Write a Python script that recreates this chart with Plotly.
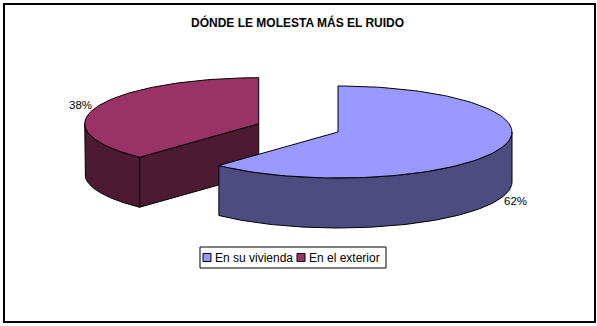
import math
import plotly.graph_objects as go

# ---- data ----
categories = ["En su vivienda", "En el exterior"]
values = [62, 38]
top_colors = ["#9999FF", "#993366"]
side_colors = ["#4C4C80", "#4D1A33"]
exploded = [False, True]
title_text = "DÓNDE LE MOLESTA MÁS EL RUIDO"

# ---- layout constants (pixel space) ----
W, H = 597, 326
CX, CY = 338.0, 132.0   # pie centre
RX, RY = 174.0, 46.0    # ellipse radii
DEPTH = 50.0            # thickness
EXPLODE = 0.49          # fraction of radius
FONT = "Arial, Liberation Sans, sans-serif"

total = sum(values)

def pt(cx, cy, theta, dy=0.0):
    t = math.radians(theta)
    return cx + RX * math.sin(t), cy - RY * math.cos(t) + dy

def arc(cx, cy, a0, a1, dy=0.0, n=120):
    xs, ys = [], []
    for i in range(n + 1):
        a = a0 + (a1 - a0) * i / n
        x, y = pt(cx, cy, a, dy)
        xs.append(x); ys.append(y)
    return xs, ys

fig = go.Figure()

def poly(xs, ys, color, name=None):
    fig.add_trace(go.Scatter(
        x=xs + [xs[0]], y=ys + [ys[0]], mode="lines", fill="toself",
        fillcolor=color, line=dict(color="black", width=1),
        hoverinfo="skip", showlegend=False, name=name))

slices = []
start = 0.0
for i, v in enumerate(values):
    ang = v / total * 360.0
    a0, a1 = start, start + ang
    mid = (a0 + a1) / 2
    cx, cy = CX, CY
    if exploded[i]:
        t = math.radians(mid)
        cx += EXPLODE * RX * math.sin(t)
        cy -= EXPLODE * RY * math.cos(t)
    slices.append((i, a0, a1, mid, cx, cy))
    start = a1

order = sorted(slices, key=lambda s: s[5])
annotations = []
for i, a0, a1, mid, cx, cy in order:
    for edge, sign in ((a0, -1), (a1, 1)):
        nrm = edge + 90 * sign
        if math.cos(math.radians(nrm)) < -1e-6:
            ex, ey = pt(cx, cy, edge)
            poly([cx, ex, ex, cx], [cy, ey, ey + DEPTH, cy + DEPTH], side_colors[i])
    lo, hi = max(a0, 90.0), min(a1, 270.0)
    if hi > lo:
        xs, ys = arc(cx, cy, lo, hi)
        xb, yb = arc(cx, cy, lo, hi, DEPTH)
        poly(xs + xb[::-1], ys + yb[::-1], side_colors[i])
    xs, ys = arc(cx, cy, a0, a1)
    poly([cx] + xs, [cy] + ys, top_colors[i], categories[i])
    t = math.radians(mid)
    lx = cx + 1.1 * RX * math.sin(t)
    ly = cy - 1.1 * RY * math.cos(t)
    if math.cos(t) < 0:
        ly += DEPTH
    annotations.append(dict(x=lx, y=ly, xref="x", yref="y",
                            text=f"{round(values[i] / total * 100)}%",
                            showarrow=False,
                            font=dict(family=FONT, size=11.5, color="black")))

annotations.append(dict(x=297, y=22, xref="x", yref="y", text=f"<b>{title_text}</b>",
                        showarrow=False,
                        font=dict(family=FONT, size=12, color="black")))

# ---- legend (drawn box, swatches and text) ----
LX0, LY0, LX1, LY1 = 200, 247, 386, 268
shapes = [dict(type="rect", xref="x", yref="y", x0=4, y0=4, x1=595, y1=322,
               line=dict(color="black", width=2), layer="above"),
          dict(type="rect", xref="x", yref="y", x0=LX0, y0=LY0, x1=LX1, y1=LY1,
               line=dict(color="black", width=1), fillcolor="white", layer="above")]
item_x = [203, 297]
ymid = (LY0 + LY1) / 2
for i, c in enumerate(categories):
    sx = item_x[i]
    shapes.append(dict(type="rect", xref="x", yref="y", x0=sx, y0=ymid - 4,
                       x1=sx + 8, y1=ymid + 4, line=dict(color="black", width=1),
                       fillcolor=top_colors[i], layer="above"))
    annotations.append(dict(x=sx + 10, y=ymid, xref="x", yref="y", text=c,
                            xanchor="left", yanchor="middle", showarrow=False,
                            font=dict(family=FONT, size=12, color="black")))

fig.update_layout(
    width=W, height=H, margin=dict(l=0, r=0, t=0, b=0),
    paper_bgcolor="white", plot_bgcolor="white",
    xaxis=dict(range=[0, W], visible=False, fixedrange=True),
    yaxis=dict(range=[H, 0], visible=False, fixedrange=True),
    annotations=annotations,
    showlegend=False,
    shapes=shapes,
)

fig.write_html("out.html")
